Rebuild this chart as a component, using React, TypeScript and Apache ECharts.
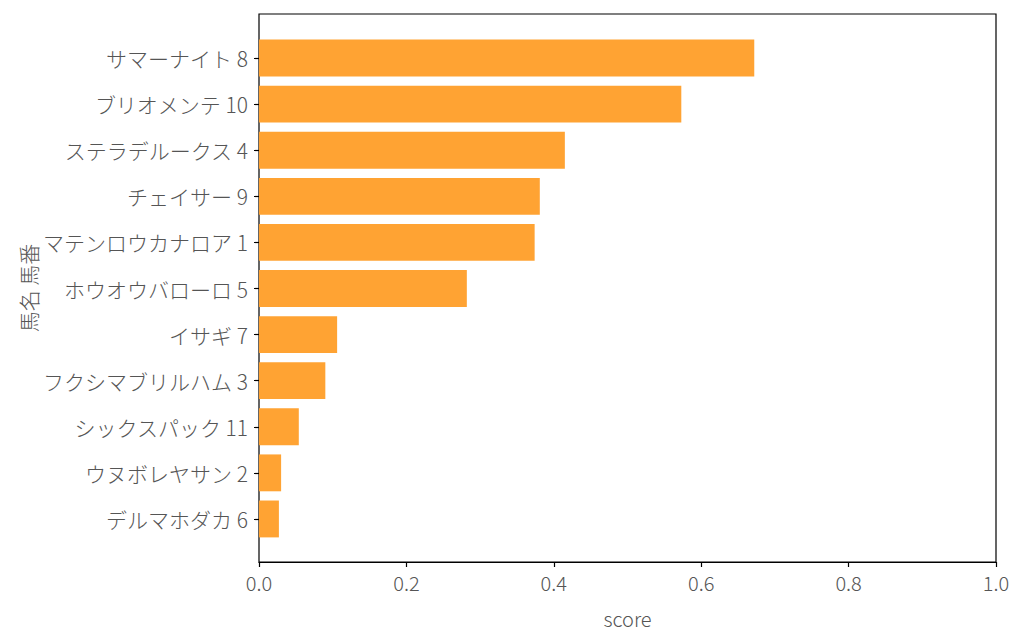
import React, { useEffect, useRef } from "react";
import * as echarts from "echarts";

const horseNames = [
  "サマーナイト 8",
  "ブリオメンテ 10",
  "ステラデルークス 4",
  "チェイサー 9",
  "マテンロウカナロア 1",
  "ホウオウバローロ 5",
  "イサギ 7",
  "フクシマブリルハム 3",
  "シックスパック 11",
  "ウヌボレヤサン 2",
  "デルマホダカ 6",
];
const scores = [0.672, 0.573, 0.415, 0.381, 0.374, 0.282, 0.106, 0.09, 0.054, 0.03, 0.027];
const xTicks = [0, 0.2, 0.4, 0.6, 0.8, 1.0];

const FONT = "'Noto Sans CJK JP', 'Noto Sans', sans-serif";
const TEXT = "#555";
const FS = 20;

export default function App() {
  const ref = useRef<HTMLDivElement>(null);
  useEffect(() => {
    if (!ref.current) return;
    const chart = echarts.init(ref.current, undefined, { renderer: "svg" });
    chart.setOption({
      animation: false,
      textStyle: { fontFamily: FONT },
      grid: [
        { left: 259, right: 28, top: 14, bottom: 82, show: true, borderColor: "#000", borderWidth: 1.2, containLabel: false },
        { left: 259, right: 28, top: 35, bottom: 102, containLabel: false },
      ],
      xAxis: [
        {
          gridIndex: 0,
          type: "value",
          min: 0,
          max: 1,
          interval: 0.2,
          splitLine: { show: false },
          axisLine: { show: true, lineStyle: { color: "#000", width: 1.2 } },
          axisTick: { show: true, length: 5, lineStyle: { color: "#000", width: 1.2 } },
          axisLabel: {
            color: TEXT,
            fontSize: FS,
            fontWeight: 300,
            margin: 10,
            formatter: (v: number) => {
              const t = xTicks.find((x) => Math.abs(x - v) < 1e-9);
              return t !== undefined ? t.toFixed(1) : "";
            },
          },
          name: "score",
          nameLocation: "middle",
          nameGap: 46,
          nameTextStyle: { color: TEXT, fontSize: FS, fontWeight: 300 },
        },
        {
          gridIndex: 1,
          type: "value",
          min: 0,
          max: 1,
          show: false,
        },
      ],
      yAxis: [
        {
          gridIndex: 0,
          type: "value",
          show: false,
          min: 0,
          max: 1,
        },
        {
          gridIndex: 1,
          type: "category",
          data: horseNames,
          inverse: true,
          axisLine: { show: false },
          axisTick: { show: true, alignWithLabel: true, length: 5, lineStyle: { color: "#000", width: 1.2 } },
          axisLabel: { color: TEXT, fontSize: 21, fontWeight: 300, margin: 11 },
        },
      ],
      graphic: [
        {
          type: "text",
          x: 28,
          y: 288,
          rotation: Math.PI / 2,
          style: {
            text: "馬名 馬番",
            fill: TEXT,
            font: `300 21px ${FONT}`,
            textAlign: "center",
            textVerticalAlign: "middle",
          },
        },
      ],
      series: [
        {
          type: "bar",
          xAxisIndex: 1,
          yAxisIndex: 1,
          data: scores,
          barWidth: "80%",
          itemStyle: { color: "#ffa333" },
        },
      ],
    });
    return () => chart.dispose();
  }, []);
  return <div ref={ref} style={{ width: 1024, height: 644, position: "absolute", left: 0, top: 0 }} />;
}
